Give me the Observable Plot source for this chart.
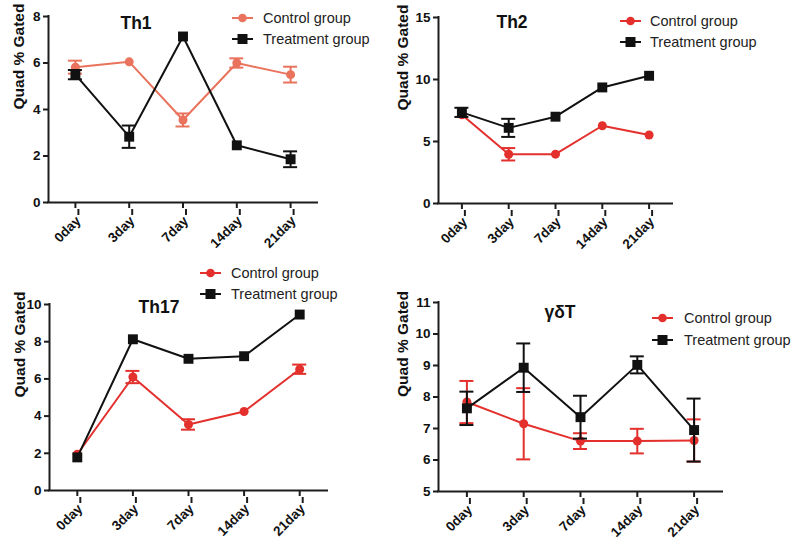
<!DOCTYPE html>
<html>
<head>
<meta charset="utf-8">
<script src="https://cdn.jsdelivr.net/npm/d3@7"></script>
<script src="https://cdn.jsdelivr.net/npm/@observablehq/plot@0.6"></script>
<style>
  html, body { margin: 0; padding: 0; background: #fff; }
  #root { position: relative; width: 800px; height: 546px; overflow: hidden; background: #fff;
          font-family: "Liberation Sans", Arial, sans-serif; }
  .panel { position: absolute; }
  .title { position: absolute; font-weight: bold; font-size: 17.5px; color: #111; transform: translate(-50%, -50%); white-space: nowrap; }
  .legrow { position: absolute; display: flex; align-items: center; height: 20px; font-size: 14.5px; color: #222; white-space: nowrap; }
  .legrow svg { display: block; }
</style>
</head>
<body>
<div id="root"></div>
<script>
// ---------- data ----------
const days = ["0day", "3day", "7day", "14day", "21day"];
const seriesNames = ["Control group", "Treatment group"];

const th1Ticks = [0, 2, 4, 6, 8];
const th1Control = [5.82, 6.05, 3.55, 6.0, 5.5];
const th1ControlErr = [0.28, 0, 0.28, 0.2, 0.34];
const th1Treatment = [5.5, 2.83, 7.14, 2.46, 1.86];
const th1TreatmentErr = [0.2, 0.48, 0, 0, 0.34];

const th2Ticks = [0, 5, 10, 15];
const th2Control = [7.16, 3.97, 3.98, 6.27, 5.52];
const th2ControlErr = [0, 0.5, 0, 0, 0];
const th2Treatment = [7.35, 6.1, 7.0, 9.36, 10.3];
const th2TreatmentErr = [0.37, 0.73, 0, 0, 0];

const th17Ticks = [0, 2, 4, 6, 8, 10];
const th17Control = [1.95, 6.1, 3.55, 4.25, 6.52];
const th17ControlErr = [0, 0.33, 0.28, 0, 0.25];
const th17Treatment = [1.78, 8.13, 7.08, 7.22, 9.46];
const th17TreatmentErr = [0, 0, 0, 0, 0];

const gdTicks = [5, 6, 7, 8, 9, 10, 11];
const gdControl = [7.84, 7.15, 6.6, 6.6, 6.62];
const gdControlErr = [0.67, 1.13, 0.25, 0.39, 0.67];
const gdTreatment = [7.64, 8.93, 7.36, 9.02, 6.95];
const gdTreatmentErr = [0.53, 0.77, 0.68, 0.27, 1.0];

// ---------- layout / style ----------
const FONT = '"Liberation Sans", Arial, sans-serif';
const AXIS = "#1c1c1c";
const BLACK = "#111111";

const panels = [
  { title: "Th1", left: 0, top: 0, width: 400, height: 260, ml: 48, mr: 83, mt: 16, mb: 58,
    yDomain: [0, 8], yTicks: th1Ticks, control: th1Control, controlErr: th1ControlErr,
    treatment: th1Treatment, treatmentErr: th1TreatmentErr, controlColor: "#e9735c",
    titleX: 136, titleY: 23, legX: 232, legY: [17.5, 38.5], legGap: 10, labelDx: -29 },
  { title: "Th2", left: 400, top: 0, width: 400, height: 260, ml: 38, mr: 128, mt: 17, mb: 57,
    yDomain: [0, 15], yTicks: th2Ticks, control: th2Control, controlErr: th2ControlErr,
    treatment: th2Treatment, treatmentErr: th2TreatmentErr, controlColor: "#e3302d",
    titleX: 512, titleY: 22, legX: 620, legY: [21, 42], legGap: 9, labelDx: -35 },
  { title: "Th17", left: 0, top: 260, width: 400, height: 286, ml: 49, mr: 73, mt: 44, mb: 56,
    yDomain: [0, 10], yTicks: th17Ticks, control: th17Control, controlErr: th17ControlErr,
    treatment: th17Treatment, treatmentErr: th17TreatmentErr, controlColor: "#e3302d",
    titleX: 159, titleY: 307, legX: 200, legY: [273, 294], legGap: 10, labelDx: -29 },
  { title: "γδT", left: 400, top: 260, width: 400, height: 286, ml: 38, mr: 78, mt: 42, mb: 55,
    yDomain: [5, 11], yTicks: gdTicks, control: gdControl, controlErr: gdControlErr,
    treatment: gdTreatment, treatmentErr: gdTreatmentErr, controlColor: "#e3302d",
    titleX: 560, titleY: 312, legX: 652, legY: [318, 340], legGap: 11, labelDx: -35 }
];

const root = document.getElementById("root");

function rows(values, errs) {
  return days.map((d, i) => ({ i, day: d, v: values[i], lo: values[i] - errs[i], hi: values[i] + errs[i], e: errs[i] }));
}

function errorMarks(data, color, capX) {
  const withErr = data.filter(d => d.e > 0);
  return [
    Plot.ruleX(withErr, { x: "i", y1: "lo", y2: "hi", stroke: color, strokeWidth: 2 }),
    Plot.ruleY(withErr, { y: "hi", x1: d => d.i - capX, x2: d => d.i + capX, stroke: color, strokeWidth: 2 }),
    Plot.ruleY(withErr, { y: "lo", x1: d => d.i - capX, x2: d => d.i + capX, stroke: color, strokeWidth: 2 })
  ];
}

for (const p of panels) {
  const step = (p.width - p.ml - p.mr) / days.length;
  const capX = 7 / step;
  const ctrl = rows(p.control, p.controlErr);
  const trt = rows(p.treatment, p.treatmentErr);

  const chart = Plot.plot({
    width: p.width,
    height: p.height,
    marginLeft: p.ml,
    marginRight: p.mr,
    marginTop: p.mt,
    marginBottom: p.mb,
    style: { fontFamily: FONT, fontSize: "13.5px", background: "transparent", overflow: "visible", color: BLACK },
    x: { domain: [-0.5, days.length - 0.5] },
    y: { domain: p.yDomain },
    marks: [
      Plot.axisX({ ticks: d3.range(days.length), tickFormat: i => days[i], tickRotate: -45, tickSize: 6,
        tickPadding: 3, dx: 3, dy: 7, stroke: AXIS, strokeWidth: 2, fontWeight: "bold", fill: BLACK, label: null }),
      Plot.axisX({ ticks: d3.range(days.length), tickSize: 6, text: null, stroke: AXIS, strokeWidth: 2, label: null }),
      Plot.axisY({ ticks: p.yTicks, tickFormat: d3.format("d"), tickSize: 5, tickPadding: 3, stroke: AXIS, strokeWidth: 2,
        fontWeight: "bold", fill: BLACK, label: null }),
      Plot.ruleX([-0.5], { stroke: AXIS, strokeWidth: 2, strokeLinecap: "square" }),
      Plot.ruleY([p.yDomain[0]], { stroke: AXIS, strokeWidth: 2, strokeLinecap: "square" }),
      Plot.text(["Quad % Gated"], { text: d => d, frameAnchor: "left", rotate: -90, dx: p.labelDx,
        fontSize: 15.5, fontWeight: "bold", fill: BLACK }),
      // control
      ...errorMarks(ctrl, p.controlColor, capX),
      Plot.line(ctrl, { x: "i", y: "v", stroke: p.controlColor, strokeWidth: 2 }),
      Plot.dot(ctrl, { x: "i", y: "v", r: 4.5, fill: p.controlColor, stroke: "none" }),
      // treatment
      ...errorMarks(trt, BLACK, capX),
      Plot.line(trt, { x: "i", y: "v", stroke: BLACK, strokeWidth: 2 }),
      Plot.dot(trt, { x: "i", y: "v", r: 5.6, symbol: "square", fill: BLACK, stroke: "none" })
    ]
  });
  const wrap = document.createElement("div");
  wrap.className = "panel";
  wrap.style.left = p.left + "px";
  wrap.style.top = p.top + "px";
  wrap.appendChild(chart);
  root.appendChild(wrap);

  // title
  const t = document.createElement("div");
  t.className = "title";
  t.textContent = p.title;
  t.style.left = p.titleX + "px";
  t.style.top = p.titleY + "px";
  root.appendChild(t);

  // legend
  seriesNames.forEach((name, k) => {
    const row = document.createElement("div");
    row.className = "legrow";
    row.style.left = p.legX + "px";
    row.style.top = (p.legY[k] - 10) + "px";
    const color = k === 0 ? p.controlColor : BLACK;
    const marker = k === 0
      ? `<circle cx="10.5" cy="7" r="4.3" fill="${color}"/>`
      : `<rect x="5.5" y="2" width="10" height="10" fill="${color}"/>`;
    row.innerHTML = `<svg width="21" height="14"><line x1="0" x2="21" y1="7" y2="7" stroke="${color}" stroke-width="2"/>${marker}</svg>` +
      `<span style="margin-left:${p.legGap}px">${name}</span>`;
    root.appendChild(row);
  });
}
</script>
</body>
</html>
